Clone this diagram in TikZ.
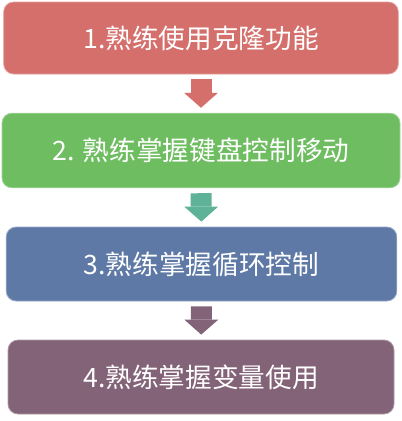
\documentclass[tikz,border=0pt]{standalone}
\usepackage{fontspec}
\usepackage{tikz}
\usetikzlibrary{arrows.meta}
\newfontfamily\cjk{Noto Sans CJK SC}

\definecolor{stepred}{RGB}{212,111,107}
\definecolor{stepgreen}{RGB}{110,189,97}
\definecolor{stepteal}{RGB}{93,178,152}
\definecolor{stepblue}{RGB}{94,121,165}
\definecolor{stepplum}{RGB}{131,99,119}

\tikzset{
  stepbox/.style={rounded corners=7.5pt,inner sep=0pt,text=white,font=\cjk\fontsize{20}{24}\selectfont,
    fill=#1,draw=#1!65!white,line width=0.6pt},
  downarrow/.style={draw=#1,line width=15.75pt,shorten <=3.75pt,shorten >=3.75pt,
    -{Triangle[length=11.25pt,width=25.5pt,line width=0pt]}}
}

\begin{document}
\begin{tikzpicture}[x=0.75pt,y=0.75pt,yscale=-1,xscale=1]
        \useasboundingbox (0,0) rectangle (402,421);
        % Boxes
        \node [stepbox=stepred,minimum width=296pt,minimum height=54pt] (s1) at (201,38) {1.熟练使用克隆功能};
        \node [stepbox=stepgreen,minimum width=298.5pt,minimum height=56pt] (s2) at (201,150.5) {2. 熟练掌握键盘控制移动};
        \node [stepbox=stepblue,minimum width=293pt,minimum height=55.5pt] (s3) at (201.5,264) {3.熟练掌握循环控制};
        \node [stepbox=stepplum,minimum width=289.5pt,minimum height=55.5pt] (s4) at (201,377) {4.熟练掌握变量使用};
        % Arrows
        \draw [downarrow=stepred] (s1) -- (s2);
        \draw [downarrow=stepteal] (s2) -- (s3);
        \draw [downarrow=stepplum] (s3) -- (s4);
\end{tikzpicture}
\end{document}
